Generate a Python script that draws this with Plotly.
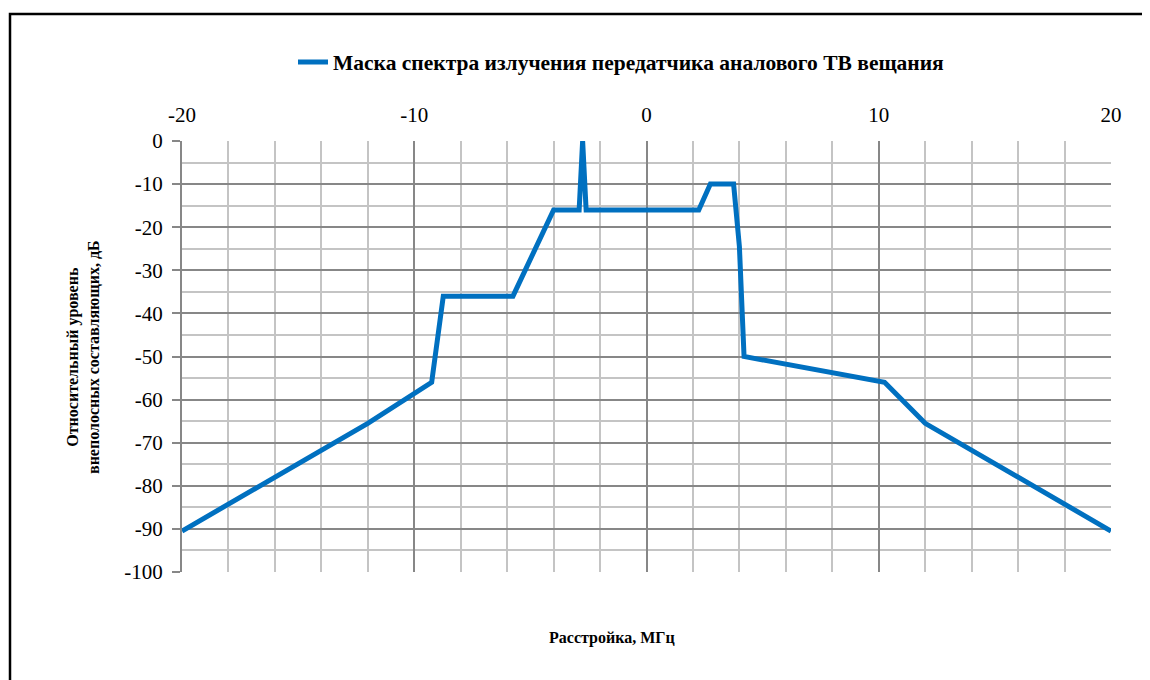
import plotly.graph_objects as go

# Data: detuning (MHz) vs relative level (dB)
freq_mhz = [-20, -12, -9.25, -8.75, -5.75, -4, -2.9, -2.75, -2.6, 2.25, 2.75, 3.75, 4.0, 4.2, 10.25, 12, 20]
level_db = [-90.5, -65.5, -56, -36, -36, -16, -16, 0, -16, -16, -10, -10, -24.5, -50, -56, -65.5, -90.5]

x_tick_vals = [-20, -10, 0, 10, 20]
x_tick_text = ["-20", "-10", "0", "10", "20"]
y_tick_vals = [0, -10, -20, -30, -40, -50, -60, -70, -80, -90, -100]
y_tick_text = ["0", "-10", "-20", "-30", "-40", "-50", "-60", "-70", "-80", "-90", "-100"]

series_name = "Маска спектра излучения передатчика аналового ТВ вещания"
x_title = "Расстройка, МГц"
y_title = "Относительный уровень<br>внеполосных составляющих, дБ"

SERIF = "Liberation Serif"

# page body has an 8px default margin, compensate
OFF = 8

fig = go.Figure()
fig.add_trace(go.Scatter(
    x=freq_mhz, y=level_db, mode="lines", name=series_name,
    line=dict(color="#0070C0", width=5, shape="linear"),
))

W, H = 1150, 680
L, R, T, B = 182 - OFF, 1150 - (1111 - OFF), 141 - OFF, 680 - (572 - OFF)
pw, ph = W - L - R, H - T - B

def px_x(p):
    return (p - OFF - L) / pw

def px_y(p):
    return (H - B - (p - OFF)) / ph

fig.update_layout(
    width=W, height=H,
    margin=dict(l=L, r=R, t=T, b=B, pad=0),
    paper_bgcolor="white", plot_bgcolor="white",
    font=dict(family=SERIF, color="black"),
    showlegend=True,
    legend=dict(
        orientation="h", x=px_x(293), xanchor="left", y=px_y(62), yanchor="middle",
        font=dict(family=SERIF, size=21.5, color="black", weight="bold"),
        itemwidth=30, bgcolor="rgba(0,0,0,0)",
    ),
    xaxis=dict(
        range=[-20, 20], side="top",
        tickvals=x_tick_vals, ticktext=x_tick_text,
        tickfont=dict(family=SERIF, size=21, color="black"),
        showgrid=True, gridcolor="#878787", gridwidth=1.5,
        minor=dict(dtick=2, tick0=0, showgrid=True, gridcolor="#c4c4c4", gridwidth=1.5, ticks=""),
        zeroline=False, showline=False, ticks="", ticklabelstandoff=14,
    ),
    yaxis=dict(
        range=[-100, 0],
        tickvals=y_tick_vals, ticktext=y_tick_text,
        tickfont=dict(family=SERIF, size=21, color="black"),
        showgrid=True, gridcolor="#878787", gridwidth=1.5,
        minor=dict(dtick=5, tick0=0, showgrid=True, gridcolor="#c4c4c4", gridwidth=1.5, ticks=""),
        zeroline=False, showline=True, linecolor="#878787", linewidth=2,
        ticks="outside", ticklen=8, tickcolor="#878787", tickwidth=1.5,
        ticklabelstandoff=5,
    ),
    shapes=[
        dict(type="rect", xref="paper", yref="paper",
             x0=px_x(10), x1=px_x(1170), y0=px_y(700), y1=px_y(14),
             line=dict(color="black", width=2.5), fillcolor="rgba(0,0,0,0)", layer="above"),
    ],
    annotations=[
        dict(text="<b>" + x_title + "</b>", xref="paper", yref="paper",
             x=px_x(612), y=px_y(638), xanchor="center", yanchor="middle",
             showarrow=False, font=dict(family=SERIF, size=16, color="black")),
        dict(text="<b>" + y_title + "</b>", xref="paper", yref="paper",
             x=px_x(83), y=px_y(357), xanchor="center", yanchor="middle", textangle=-90,
             showarrow=False, font=dict(family=SERIF, size=16, color="black")),
    ],
)

fig.write_html("out.html")
